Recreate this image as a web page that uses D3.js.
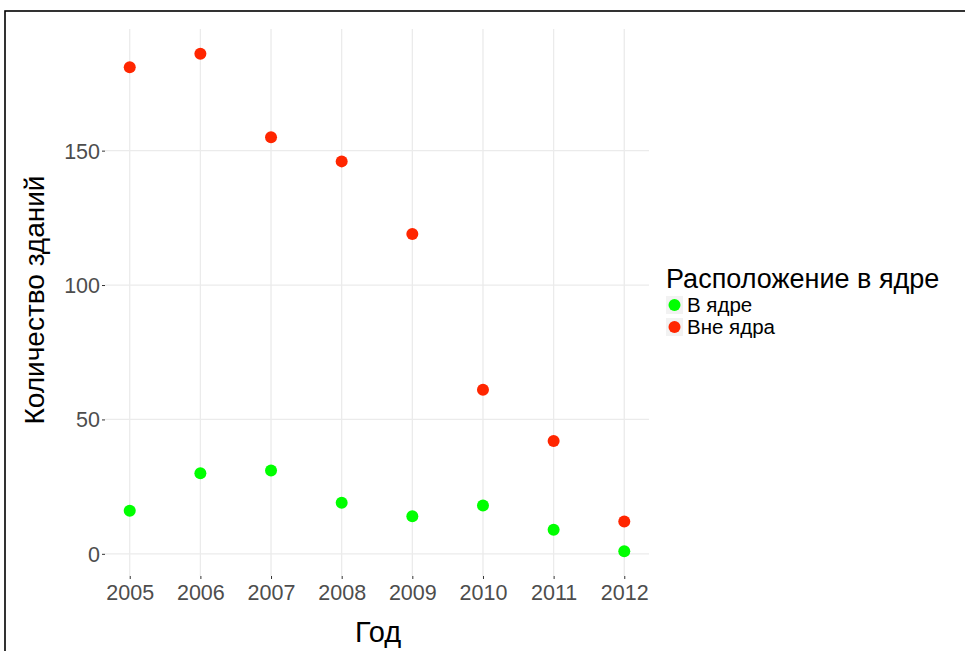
<!DOCTYPE html>
<html><head><meta charset="utf-8">
<script src="https://cdn.jsdelivr.net/npm/d3@7"></script>
<style>body{margin:0;background:#fff}svg{display:block;font-family:"Liberation Sans",Arial,sans-serif}</style>
</head><body>
<svg id="c" width="965" height="651"></svg>
<script>
const years = [2005, 2006, 2007, 2008, 2009, 2010, 2011, 2012];
const inCore = [16, 30, 31, 19, 14, 18, 9, 1];
const outCore = [181, 186, 155, 146, 119, 61, 42, 12];
const seriesNames = ["В ядре", "Вне ядра"];
const seriesColors = ["#00ff00", "#ff2600"];
const yTicks = [0, 50, 100, 150];

const svg = d3.select("#c");
svg.append("rect").attr("x",5).attr("y",11).attr("width",1000).attr("height",700)
  .attr("fill","#fff").attr("stroke","#000").attr("stroke-width",1.6);

const panel = {l:105, r:649, t:29, b:576};
const x = d3.scaleLinear().domain([2005-0.35, 2012+0.35]).range([panel.l, panel.r]);
const y = d3.scaleLinear().domain([1-9.25, 186+9.25]).range([panel.b, panel.t]);

const g = svg.append("g");
g.selectAll("line.gy").data(yTicks).join("line")
  .attr("x1",panel.l).attr("x2",panel.r).attr("y1",d=>y(d)).attr("y2",d=>y(d))
  .attr("stroke","#ebebeb").attr("stroke-width",1.3);
g.selectAll("line.gx").data(years).join("line")
  .attr("y1",panel.t).attr("y2",panel.b).attr("x1",d=>x(d)).attr("x2",d=>x(d))
  .attr("stroke","#ebebeb").attr("stroke-width",1.3);

const yAxis = d3.axisLeft(y).tickValues(yTicks).tickSize(3).tickPadding(2);
const ya = svg.append("g").attr("transform",`translate(${panel.l},0)`).call(yAxis);
ya.select(".domain").remove();
ya.selectAll(".tick line").attr("stroke","#333").attr("stroke-width",1);
ya.selectAll(".tick text").attr("fill","#4d4d4d").attr("font-size",21.5).attr("font-family","Liberation Sans, Arial, sans-serif").attr("dy","0.35em");

const xAxis = d3.axisBottom(x).tickValues(years).tickFormat(d3.format("d")).tickSize(3).tickPadding(6);
const xa = svg.append("g").attr("transform",`translate(0,${panel.b})`).call(xAxis);
xa.select(".domain").remove();
xa.selectAll(".tick line").attr("stroke","#333").attr("stroke-width",1);
xa.selectAll(".tick text").attr("fill","#4d4d4d").attr("font-size",21.5).attr("font-family","Liberation Sans, Arial, sans-serif");

const series = [inCore, outCore];
series.forEach((vals, i) => {
  g.selectAll(null).data(vals).join("circle")
    .attr("cx",(d,j)=>x(years[j])).attr("cy",d=>y(d)).attr("r",6)
    .attr("fill",seriesColors[i]);
});

svg.append("text").attr("x",378).attr("y",642).attr("text-anchor","middle")
  .attr("font-size",29).attr("fill","#000").text("Год");
svg.append("text").attr("transform","translate(44,300) rotate(-90)").attr("text-anchor","middle")
  .attr("font-size",28).attr("fill","#000").text("Количество зданий");

const lg = svg.append("g").attr("transform","translate(666,0)");
lg.append("text").attr("x",0).attr("y",288).attr("font-size",27).attr("fill","#000").text("Расположение в ядре");
seriesNames.forEach((n,i)=>{
  const cy = 305 + i*22;
  lg.append("rect").attr("x",0).attr("y",cy-9).attr("width",17).attr("height",18).attr("fill","#f2f2f2");
  lg.append("circle").attr("cx",8.5).attr("cy",cy).attr("r",6).attr("fill",seriesColors[i]);
  lg.append("text").attr("x",21).attr("y",cy+7).attr("font-size",20.5).attr("fill","#000").text(n);
});
</script>
</body></html>
